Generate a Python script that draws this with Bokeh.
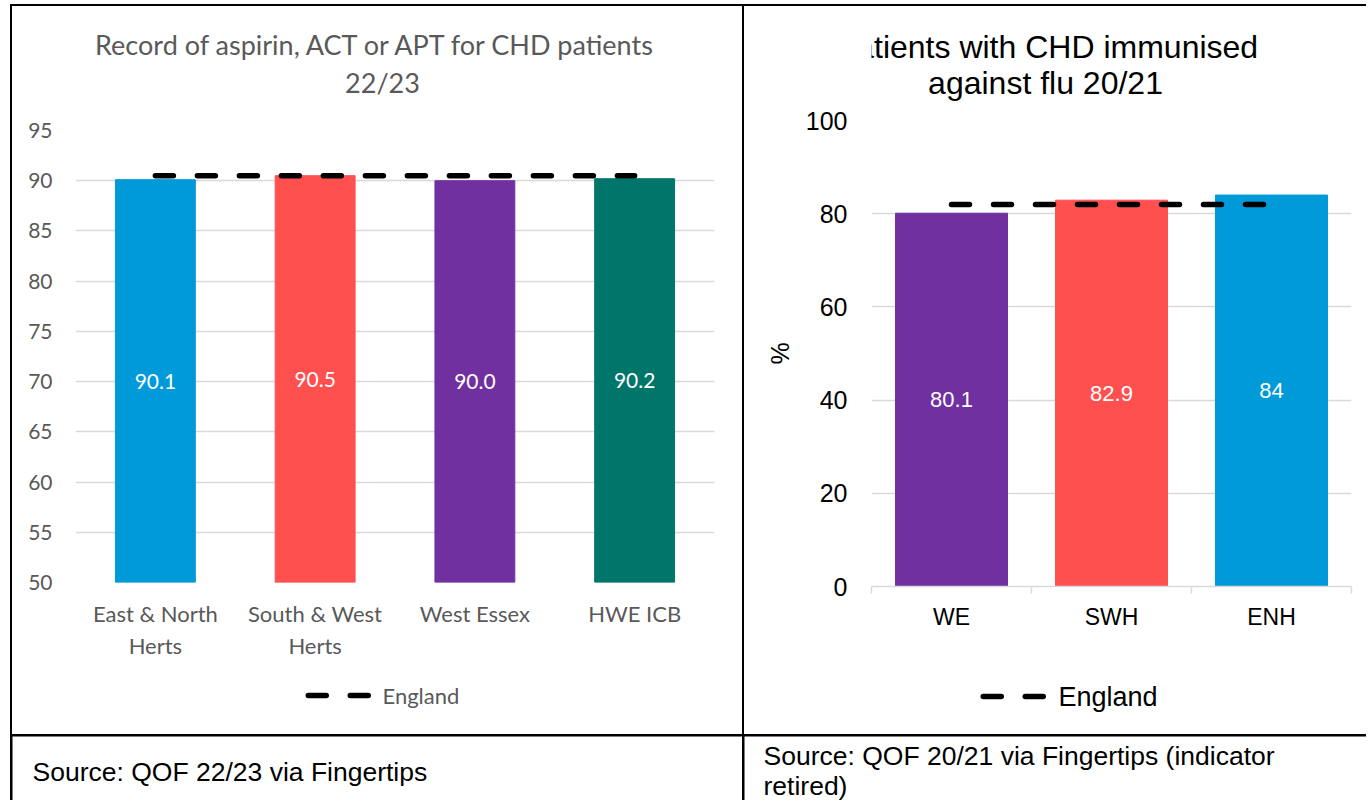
from bokeh.plotting import figure
from bokeh.layouts import row, column
from bokeh.models import Range1d, FactorRange, FixedTicker, Label, ColumnDataSource
from bokeh.embed import file_html
from bokeh.resources import INLINE
from bokeh.core.properties import value

# ---------------- data ----------------
left_title = ["Record of aspirin, ACT or APT for CHD patients", "22/23"]
left_categories = ["East & North\nHerts", "South & West\nHerts", "West Essex", "HWE ICB"]
left_values = [90.1, 90.5, 90.0, 90.2]
left_colors = ["#009ad9", "#ff4f4f", "#7030a0", "#00756a"]
left_england = 90.5
left_ymin, left_ymax = 50, 95
left_yticks = [50, 55, 60, 65, 70, 75, 80, 85, 90, 95]

right_title = ["Patients with CHD immunised", "against flu 20/21"]
right_categories = ["WE", "SWH", "ENH"]
right_values = [80.1, 82.9, 84]
right_colors = ["#7030a0", "#ff4f4f", "#009ad9"]
right_england = 82.0
right_yticks = [0, 20, 40, 60, 80, 100]

legend_label = "England"
source_left = "Source: QOF 22/23 via Fingertips"
source_right = ["Source: QOF 20/21 via Fingertips (indicator", "retired)"]

# ---------------- styles ----------------
LF = "Lato"
RF = "Liberation Sans"
GRAY_TXT = "#595959"
GRID = "#d9d9d9"
DASH = "18 24"
DASH_W = 5.5

L_LEFT, L_RIGHT = 63, 28     # left chart borders (frame 639 px wide)
R_LEFT, R_RIGHT = 127, 15    # right chart borders (frame 480 px wide)


def blank(width, height, left=0, right=0):
    f = figure(width=width, height=height, x_range=Range1d(0, width - left - right),
               y_range=Range1d(0, height), x_axis_location=None, y_axis_location=None,
               title=None, output_backend="svg", toolbar_location=None,
               min_border=0, min_border_left=left, min_border_right=right)
    f.outline_line_color = None
    f.xgrid.visible = False
    f.ygrid.visible = False
    return f


def legend_cell(width, height, left, right, x0, y, label_x, font, size, color):
    f = blank(width, height, left, right)
    f.line(x=[x0, x0 + 60], y=[y, y], line_color="black", line_width=DASH_W,
           line_dash=DASH, line_cap="round")
    f.add_layout(Label(x=label_x, y=y, x_units="screen", y_units="screen", text=legend_label,
                       text_font=font, text_font_size=size, text_color=color,
                       text_baseline="middle"))
    return f


# ---------------- left cell ----------------
tL = blank(730, 110, L_LEFT, L_RIGHT)
tL.add_layout(Label(x=301, y=72, x_units="screen", y_units="screen", text=left_title[0],
                    text_font=LF, text_font_size="27px", text_color=GRAY_TXT,
                    text_align="center", text_baseline="middle"))
tL.add_layout(Label(x=307, y=34, x_units="screen", y_units="screen", text=left_title[1],
                    text_font=LF, text_font_size="27px", text_color=GRAY_TXT,
                    text_align="center", text_baseline="middle"))

pL = figure(width=730, height=545, x_range=FactorRange(*left_categories),
            y_range=Range1d(left_ymin, left_ymax), title=None,
            output_backend="svg", toolbar_location=None,
            min_border_left=L_LEFT, min_border_right=L_RIGHT, min_border_top=14,
            min_border_bottom=72)
pL.outline_line_color = None

srcL = ColumnDataSource(dict(x=left_categories, top=left_values, color=left_colors,
                             mid=[(v + left_ymin) / 2 for v in left_values],
                             lab=[f"{v:.1f}" for v in left_values]))
pL.vbar(x="x", top="top", bottom=left_ymin, width=0.5, color="color", source=srcL)
pL.text(x="x", y="mid", text="lab", source=srcL, text_color="white",
        text_font=value(LF), text_font_size="21px", text_align="center", text_baseline="middle")
pL.line(x=left_categories, y=[left_england] * len(left_categories), line_color="black",
        line_width=DASH_W, line_dash=DASH, line_cap="round")

pL.xgrid.grid_line_color = None
pL.ygrid.grid_line_color = GRID
pL.ygrid.grid_line_width = 1.5
pL.yaxis.ticker = FixedTicker(ticks=left_yticks)
for ax in (pL.xaxis[0], pL.yaxis[0]):
    ax.axis_line_color = None
    ax.major_tick_line_color = None
    ax.minor_tick_line_color = None
    ax.major_tick_out = 0
    ax.major_tick_in = 0
    ax.major_label_text_color = GRAY_TXT
    ax.major_label_text_font = LF
pL.yaxis.major_label_text_font_size = "21px"
pL.yaxis.major_label_standoff = 23
pL.xaxis.major_label_text_font_size = "22px"
pL.xaxis.major_label_standoff = 17

lL = legend_cell(730, 73, L_LEFT, L_RIGHT, 232.75, 39, 307, LF, "22px", GRAY_TXT)

# ---------------- right cell ----------------
tR = blank(622, 100, R_LEFT, R_RIGHT)
tR.add_layout(Label(x=175, y=60, x_units="screen", y_units="screen", text=right_title[0],
                    text_font=RF, text_font_size="32px", text_color="black",
                    text_align="center", text_baseline="middle"))
tR.add_layout(Label(x=174, y=24, x_units="screen", y_units="screen", text=right_title[1],
                    text_font=RF, text_font_size="32px", text_color="black",
                    text_align="center", text_baseline="middle"))

n = len(right_categories)
xpos = list(range(n))
pR = figure(width=622, height=548, x_range=Range1d(-0.5, n - 0.5),
            y_range=Range1d(right_yticks[0], right_yticks[-1]), title=None,
            output_backend="svg", toolbar_location=None,
            min_border_left=R_LEFT, min_border_right=R_RIGHT, min_border_top=14,
            min_border_bottom=68)
pR.outline_line_color = None

srcR = ColumnDataSource(dict(x=xpos, top=right_values, color=right_colors,
                             mid=[v / 2 for v in right_values],
                             lab=[f"{v:g}" for v in right_values]))
pR.vbar(x="x", top="top", bottom=0, width=0.7, color="color", source=srcR)
pR.text(x="x", y="mid", text="lab", source=srcR, text_color="white",
        text_font=value(RF), text_font_size="22px", text_align="center", text_baseline="middle")
pR.line(x=xpos, y=[right_england] * n, line_color="black",
        line_width=DASH_W, line_dash=DASH, line_cap="round")

pR.xgrid.grid_line_color = None
pR.ygrid.grid_line_color = GRID
pR.ygrid.grid_line_width = 1.5
pR.yaxis.ticker = FixedTicker(ticks=right_yticks)
pR.yaxis.axis_line_color = None
pR.yaxis.major_tick_line_color = None
pR.yaxis.minor_tick_line_color = None
pR.yaxis.major_tick_out = 0
pR.yaxis.major_label_standoff = 24
pR.yaxis.major_label_text_font = RF
pR.yaxis.major_label_text_font_size = "25px"
pR.yaxis.major_label_text_color = "black"
pR.yaxis.axis_label = "%"
pR.yaxis.axis_label_text_font = RF
pR.yaxis.axis_label_text_font_size = "25px"
pR.yaxis.axis_label_text_font_style = "normal"
pR.yaxis.axis_label_text_color = "black"
pR.yaxis.axis_label_standoff = 9

pR.xaxis.ticker = FixedTicker(ticks=xpos, minor_ticks=[i - 0.5 for i in range(n + 1)])
pR.xaxis.major_label_overrides = {i: c for i, c in zip(xpos, right_categories)}
pR.xaxis.axis_line_color = GRID
pR.xaxis.axis_line_width = 1.5
pR.xaxis.major_tick_line_color = None
pR.xaxis.major_tick_out = 0
pR.xaxis.major_tick_in = 0
pR.xaxis.minor_tick_line_color = GRID
pR.xaxis.minor_tick_line_width = 1.5
pR.xaxis.minor_tick_out = 7
pR.xaxis.minor_tick_in = 0
pR.xaxis.major_label_standoff = 10
pR.xaxis.major_label_text_font = RF
pR.xaxis.major_label_text_font_size = "23px"
pR.xaxis.major_label_text_color = "black"

lR = legend_cell(622, 80, R_LEFT, R_RIGHT, 111.75, 38, 187, RF, "27px", "black")

# ---------------- source cells ----------------
sL = blank(730, 64)
sL.add_layout(Label(x=20, y=29, x_units="screen", y_units="screen", text=source_left,
                    text_font=RF, text_font_size="26.5px", text_color="black",
                    text_baseline="middle"))
sR = blank(622, 64)
sR.add_layout(Label(x=19, y=45, x_units="screen", y_units="screen", text=source_right[0],
                    text_font=RF, text_font_size="26.5px", text_color="black",
                    text_baseline="middle"))
sR.add_layout(Label(x=19, y=15, x_units="screen", y_units="screen", text=source_right[1],
                    text_font=RF, text_font_size="26.5px", text_color="black",
                    text_baseline="middle"))

left_cell = column(tL, pL, lL, spacing=0, styles={"background-color": "white"})
right_cell = column(tR, pR, lR, spacing=0, styles={"background-color": "white"})
layout = column(row(left_cell, right_cell, spacing=2), row(sL, sR, spacing=2), spacing=2,
                styles={"background-color": "black", "padding": "2px 0px 0px 2px",
                        "margin": "4px 0px 0px 10px"})

open("out.html", "w").write(file_html(layout, INLINE))
